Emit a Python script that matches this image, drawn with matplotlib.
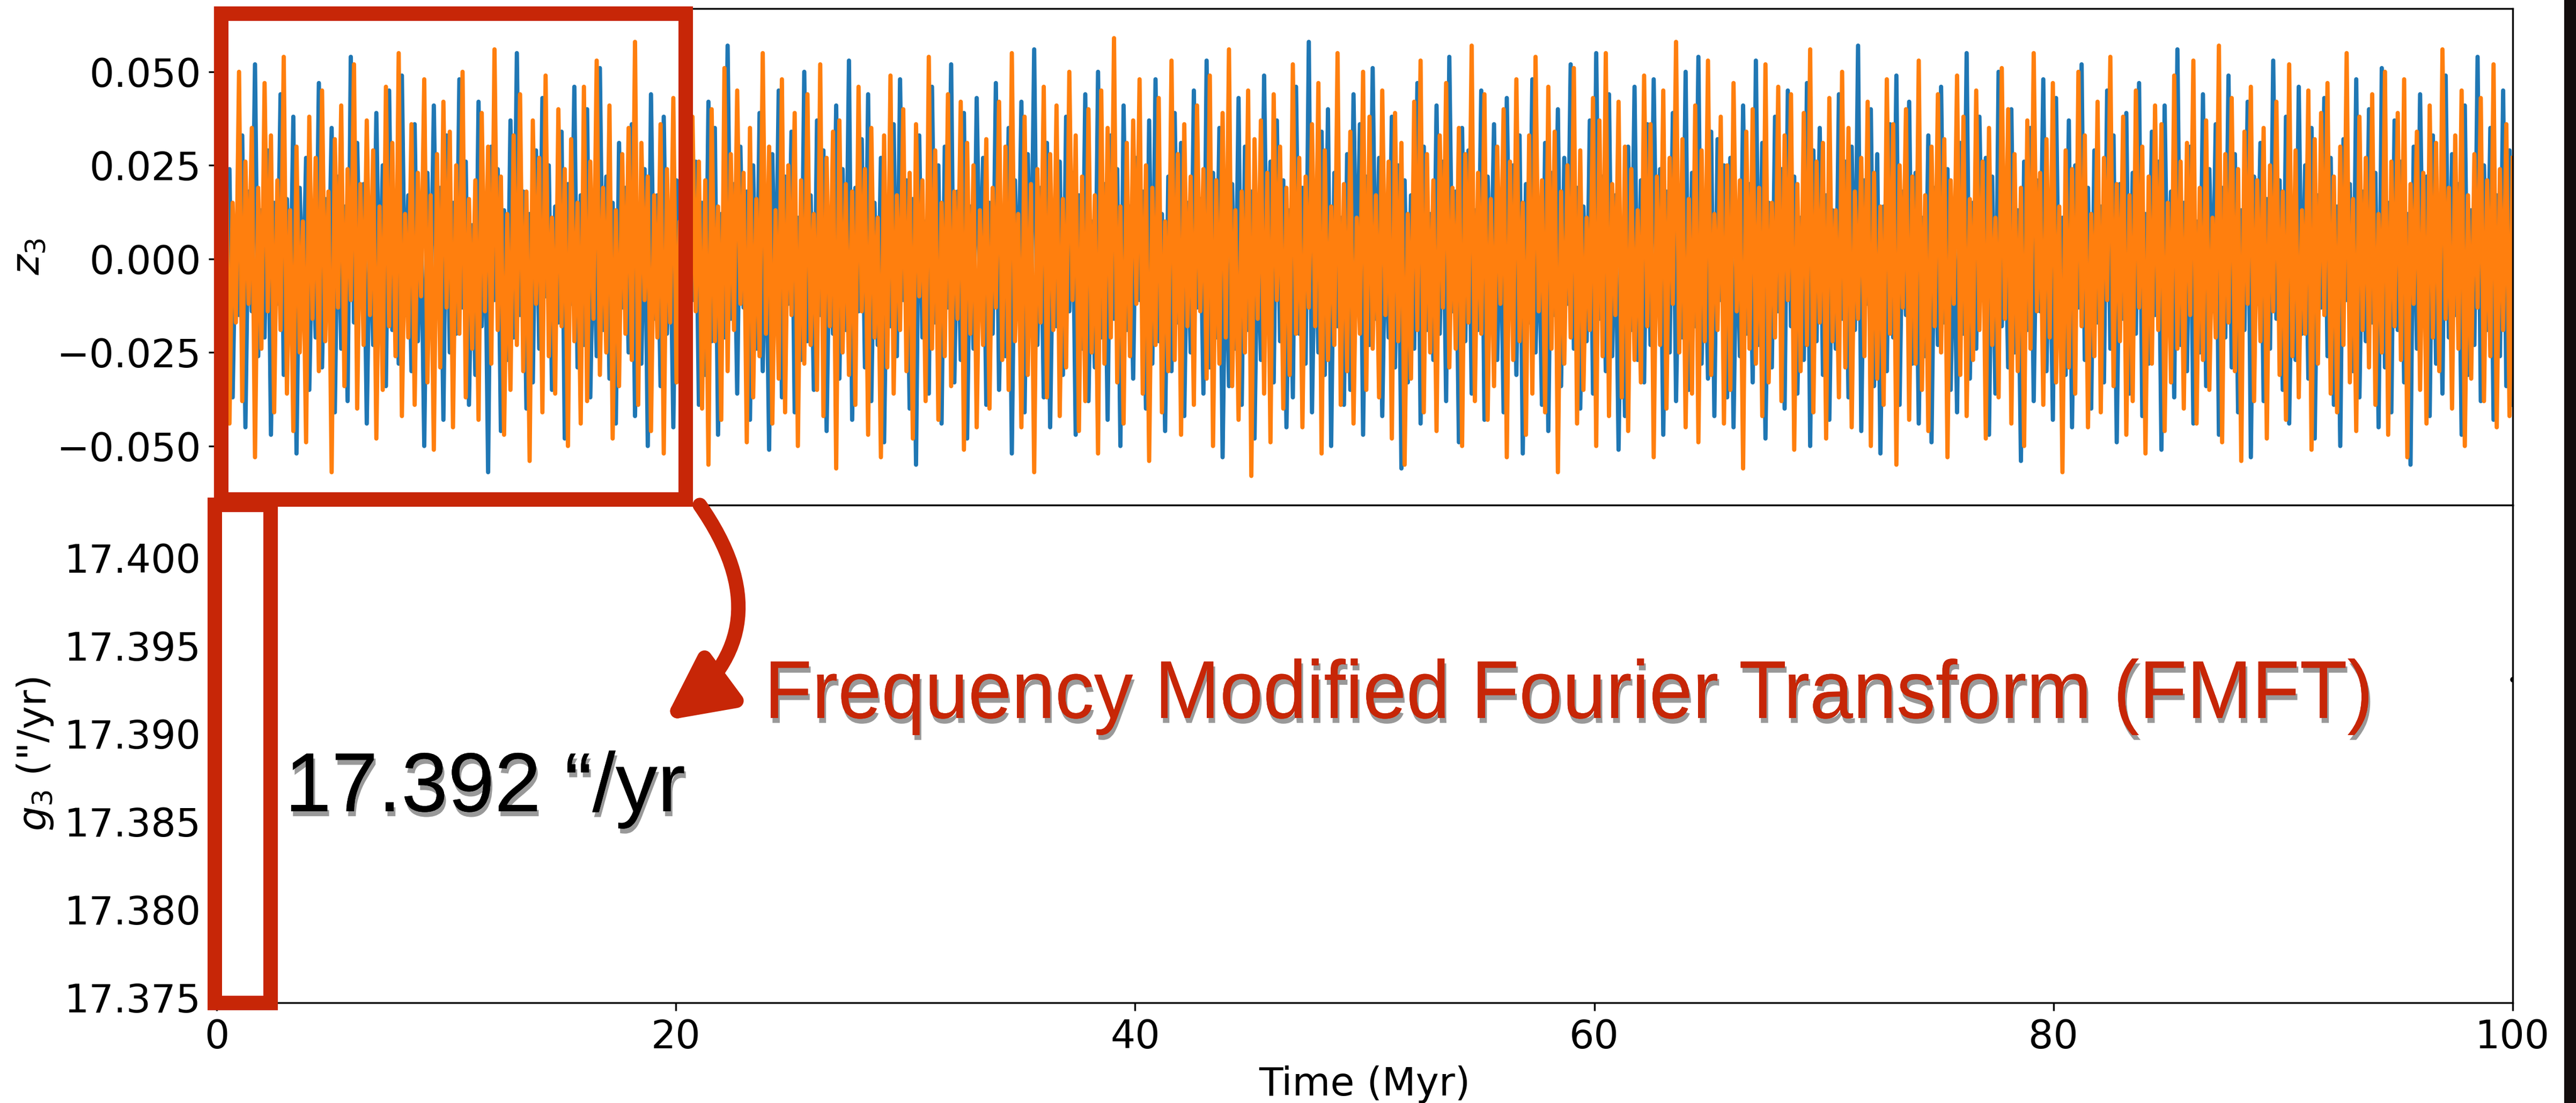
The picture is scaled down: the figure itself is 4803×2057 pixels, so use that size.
import numpy as np
import matplotlib
matplotlib.use('Agg')
import matplotlib.pyplot as plt
from matplotlib.patches import Rectangle, FancyArrowPatch, PathPatch
from matplotlib.textpath import TextPath
from matplotlib.font_manager import FontProperties
from matplotlib.transforms import Affine2D
import matplotlib.patheffects as pe

#-------------------------------------------------------------------------------
# data (z3 in units of 1e-3)
#-------------------------------------------------------------------------------
z3_blue = [
    12,-18,41,-9,24,-37,11,-15,33,-45,18,-14,52,-26,13,-21,29,-47,15,-12,
    44,-31,16,-18,38,-52,19,-13,27,-35,10,-21,47,-29,16,-11,35,-41,22,-24,
    14,-38,54,-17,31,-12,20,-44,13,-23,39,-16,25,-34,45,-19,11,-28,49,-15,
    17,-30,36,-22,12,-50,23,-16,41,-14,19,-43,33,-25,15,-20,48,-13,26,-39,
    9,-31,42,-18,16,-57,30,-11,24,-46,13,-27,37,-21,55,-15,18,-40,12,-33,
    29,-24,43,-10,25,-35,14,-17,34,-48,20,-12,46,-29,17,-23,40,-37,11,-26,
    51,-19,22,-32,15,-44,31,-13,19,-25,36,-42,10,-28,24,-50,44,-16,17,-34,
    38,-20,13,-45,21,-18,49,-27,33,-11,26,-39,15,-31,42,-22,35,-47,12,-21,
    57,-16,20,-36,30,-13,18,-43,25,-24,39,-30,14,-51,28,-17,45,-37,22,-12,
    34,-41,11,-27,50,-22,17,-35,37,-15,29,-46,13,-20,41,-32,24,-19,53,-43,
    19,-14,32,-29,44,-38,15,-23,27,-49,12,-18,36,-26,48,-11,21,-40,16,-55,
    33,-21,10,-36,46,-17,25,-44,30,-13,52,-33,18,-27,39,-48,14,-24,43,-10,
    27,-39,15,-20,47,-35,11,-26,35,-52,21,-16,42,-41,28,-12,56,-23,19,-37,
    31,-45,13,-18,26,-31,38,-14,23,-47,17,-24,44,-38,10,-29,50,-21,20,-43,
    33,-16,24,-50,41,-19,14,-32,27,-11,18,-40,37,-28,48,-22,12,-46,22,-30,
    39,-17,31,-42,15,-25,45,-13,16,-36,53,-29,23,-21,35,-53,11,-34,20,-24,
    43,-39,30,-19,18,-48,12,-27,49,-15,26,-33,37,-22,21,-45,13,-37,46,-20,
    19,-28,58,-41,14,-25,34,-31,40,-50,23,-18,11,-39,28,-35,44,-12,36,-47,
    22,-23,51,-16,27,-42,10,-21,38,-29,25,-56,21,-33,17,-24,47,-44,30,-19,
    12,-27,41,-20,26,-38,54,-14,18,-49,35,-22,29,-36,13,-19,45,-43,22,-11,
    36,-27,16,-41,43,-13,25,-31,33,-52,20,-17,48,-25,11,-39,31,-46,23,-15,
    40,-34,27,-12,52,-24,19,-40,14,-22,37,-36,55,-16,22,-30,44,-26,17,-51,
    10,-42,30,-19,46,-27,21,-33,36,-23,48,-13,24,-47,18,-25,39,-38,12,-21,
    50,-35,23,-18,54,-28,16,-32,34,-42,32,-11,25,-37,27,-45,13,-26,41,-20,
    20,-33,53,-23,31,-48,15,-29,38,-14,24,-40,45,-18,22,-36,11,-27,47,-50,
    29,-22,35,-31,17,-43,13,-24,44,-16,26,-37,30,-19,57,-46,21,-12,40,-34,
    28,-52,14,-30,36,-21,49,-39,18,-15,42,-28,23,-44,11,-26,33,-49,19,-23,
    46,-17,24,-35,12,-41,31,-20,55,-32,15,-24,38,-11,27,-47,22,-36,50,-18,
    17,-29,40,-25,13,-54,26,-19,35,-38,21,-14,48,-30,16,-43,43,-22,11,-31,
    37,-45,25,-13,52,-27,19,-40,29,-17,14,-33,45,-24,33,-49,20,-16,39,-36,
    23,-20,47,-42,12,-28,34,-15,26,-51,41,-18,18,-37,56,-23,15,-30,30,-44,
    10,-25,44,-34,24,-14,36,-47,19,-21,49,-29,28,-41,13,-19,42,-53,22,-12,
    31,-38,16,-24,53,-16,21,-35,38,-44,11,-27,46,-20,25,-32,35,-48,17,-13,
    43,-26,27,-39,14,-50,32,-11,20,-30,48,-37,18,-22,40,-17,23,-45,51,-29,
    15,-41,37,-19,26,-33,12,-55,30,-24,44,-14,22,-42,33,-28,16,-36,49,-21,
    28,-15,20,-47,41,-31,13,-23,54,-38,25,-19,35,-43,17,-26,45,-34,29,-39]

z3_orange = [
    -20,43,-11,22,-44,15,-17,50,-38,26,-12,35,-53,19,-24,47,-14,33,-41,21,
    -19,54,-36,13,-46,30,-25,10,-49,38,-16,27,-30,45,-22,18,-57,32,-13,41,
    -34,24,-11,52,-40,20,-23,37,-15,29,-48,14,-35,46,-18,31,-26,55,-42,12,
    -21,36,-39,23,-10,48,-33,17,-51,28,-29,42,-13,34,-45,25,-20,50,-37,16,
    -24,21,-43,39,-14,30,-28,56,-19,22,-47,12,-35,33,-23,44,-30,18,-54,37,
    -12,27,-41,49,-26,11,-36,40,-18,24,-50,32,-22,15,-44,46,-38,26,-16,53,
    -31,19,-25,41,-48,13,-34,28,-20,35,-27,58,-39,31,-11,22,-46,17,-21,36,
    -52,24,-17,43,-33,10,-28,47,-24,38,-14,26,-40,21,-55,40,-22,14,-43,51,
    -30,28,-19,45,-12,23,-49,35,-37,16,-26,55,-20,30,-44,13,-32,48,-41,25,
    -15,39,-50,21,-28,44,-23,12,-35,52,-42,27,-18,34,-56,37,-25,20,-31,18,
    -39,46,-14,24,-47,35,-21,11,-53,33,-29,49,-36,17,-19,40,-30,23,-48,36,
    -10,21,-38,54,-24,29,-43,15,-26,44,-34,18,-16,42,-51,31,-20,25,-45,13,
    -23,32,-40,19,-13,42,-27,30,-35,55,-22,12,-45,38,-31,20,-57,24,-17,46,
    -37,28,-19,41,-42,16,-29,50,-11,33,-46,22,-38,40,-25,17,-52,45,-28,35,
    -21,59,-33,14,-44,31,-26,37,-12,48,-36,25,-54,19,-23,43,-41,10,-30,53,
    -27,28,-47,36,-18,22,-39,41,-14,24,-32,49,-50,21,-28,39,-21,56,-34,13,
    -43,18,-25,45,-58,32,-16,37,-36,23,-49,44,-11,30,-40,19,-31,52,-20,27,
    -45,22,-13,36,-18,47,-52,29,-27,14,-23,55,-39,20,-30,34,-44,11,-20,50,
    -35,38,-24,17,-37,45,-15,26,-48,39,-22,31,-55,12,-32,42,-19,53,-41,28,
    -25,21,-46,33,-13,47,-29,19,-24,35,-50,28,-17,57,-38,23,-20,44,-43,16,
    -34,30,-12,40,-53,26,-27,48,-22,15,-47,33,-36,54,-14,21,-41,46,-24,34,
    -57,18,-28,25,-21,51,-44,29,-35,11,-19,43,-50,37,-26,55,-42,20,-15,42,
    -37,30,-46,24,-27,13,-33,49,-18,36,-53,22,-23,45,-40,27,-12,58,-25,32,
    -45,16,-36,41,-49,29,-22,53,-31,12,-19,38,-44,25,-35,47,-14,21,-56,34,
    -24,40,-28,19,-42,52,-33,15,-21,46,-38,33,-11,44,-51,20,-30,39,-23,56,
    -41,26,-17,31,-48,43,-22,13,-37,50,-29,35,-45,18,-16,27,-26,42,-50,23,
    -32,14,-39,48,-20,36,-55,25,-13,40,-43,22,-28,53,-35,17,-46,30,-18,44,
    -25,32,-53,21,-12,49,-31,38,-42,16,-27,45,-19,26,-48,35,-23,11,-37,51,
    -16,40,-44,28,-30,19,-50,37,-24,55,-14,23,-39,32,-21,47,-33,14,-57,29,
    -29,24,-36,50,-18,33,-45,12,-26,42,-41,27,-11,54,-34,20,-22,38,-47,17,
    -38,45,-13,30,-52,22,-28,41,-19,36,-46,15,-33,49,-24,26,-40,31,-15,53,
    -44,19,-27,37,-35,11,-21,57,-49,28,-17,43,-30,24,-54,34,-12,46,-38,21,
    -22,35,-48,25,-14,42,-31,18,-43,52,-26,29,-37,13,-20,45,-51,32,-28,39,
    -15,47,-36,22,-41,30,-23,55,-33,16,-46,38,-19,27,-29,44,-39,12,-25,50,
    -47,26,-18,39,-27,48,-53,20,-12,34,-35,23,-44,41,-21,31,-30,56,-16,19,
    -40,33,-24,45,-50,17,-32,28,-13,43,-38,21,-26,52,-45,24,-19,36,-42,27]

# g3 frequency ("/yr), one value shown at the right edge
g3_time = [100.0]
g3_value = [17.3931]

x_ticks = [0, 20, 40, 60, 80, 100]
g3_ticks = [17.375, 17.380, 17.385, 17.390, 17.395, 17.400]

W, H = 4803, 2057
DPI = 300
RED = '#C72607'

zb = np.array(z3_blue) / 1000.0
zo = np.array(z3_orange) / 1000.0
tb = np.linspace(0, 100, len(zb))
to = np.linspace(0, 100, len(zo))

fig = plt.figure(figsize=(W / DPI, H / DPI), dpi=DPI)
plt.rcParams['font.size'] = 17.5

ax1 = fig.add_axes([404 / W, 1 - 942 / H, (4685 - 404) / W, (942 - 16) / H])
ax2 = fig.add_axes([404 / W, 1 - 1870 / H, (4685 - 404) / W, (1870 - 942) / H], sharex=ax1)

ax1.plot(tb, zb, color='#1f77b4', lw=1.9)
ax1.plot(to, zo, color='#ff7f0e', lw=1.9)
ax1.set_xlim(0, 100)
ax1.set_ylim(-0.0658, 0.0669)
ax1.set_yticks([-0.05, -0.025, 0.0, 0.025, 0.05])
ax1.set_yticklabels(['\u22120.050', '\u22120.025', '0.000', '0.025', '0.050'], fontsize=17.5)
ax1.set_ylabel('$z_3$', fontsize=17.5)
ax1.tick_params(axis='x', labelbottom=False, length=0)

ax2.plot(g3_time, g3_value, 'k.', markersize=3)
ax2.set_ylim(17.3747, 17.4030)
ax2.set_yticks(g3_ticks)
ax2.set_yticklabels(['%.3f' % v for v in g3_ticks], fontsize=17.5)
ax2.set_xticks(x_ticks)
ax2.set_xticklabels([str(v) for v in x_ticks], fontsize=17.5)
ax2.set_xlabel('Time (Myr)', fontsize=17.5)
ax2.set_ylabel('$g_3$ ("/yr)', fontsize=17.5)

#-------------------------------------------------------------------------------
# slide overlay: boxes, arrow, labels
#-------------------------------------------------------------------------------
lw_box = 27 * 72 / DPI
fig.add_artist(Rectangle((412 / W, 1 - 931 / H), 866 / W, 906 / H, transform=fig.transFigure,
                         fill=False, edgecolor=RED, lw=lw_box, joinstyle='miter', zorder=10))
fig.add_artist(Rectangle((399.5 / W, 1 - 1870 / H), 104 / W, 929 / H, transform=fig.transFigure,
                         fill=False, edgecolor=RED, lw=lw_box, joinstyle='miter', zorder=10))

arrow = FancyArrowPatch((1300 / W, 1 - 935 / H), (1232 / W, 1 - 1349 / H),
                        transform=fig.transFigure, connectionstyle='arc3,rad=-0.5',
                        arrowstyle='-|>,head_length=1.2,head_width=0.6', mutation_scale=20,
                        color=RED, lw=lw_box, zorder=10)
fig.add_artist(arrow)

shadow = [pe.withSimplePatchShadow(offset=(0.8, -2.2), shadow_rgbFace='black', alpha=0.4),
          pe.Normal()]

# red caption, slightly condensed as on the slide (x 1437..4416 px, baseline 1339 px)
fmft_label = 'Frequency Modified Fourier Transform (FMFT)'
tp = TextPath((0, 0), fmft_label, size=153, prop=FontProperties(family='Liberation Sans'))
ext = tp.get_extents()
sx = (4416 - 1437) / ext.width
tr = Affine2D().scale(sx, 1).translate(1437 - ext.x0 * sx, H - 1339)
fig.add_artist(PathPatch(tp, transform=tr, facecolor=RED, edgecolor='none',
                         path_effects=shadow, zorder=11))

fig.text(531 / W, 1 - 1513 / H, '17.392 \u201c/yr',
         family='Liberation Sans', fontsize=37.5, color='black', ha='left', va='baseline',
         path_effects=shadow, zorder=11)

# dark strip on the right edge of the slide
fig.add_artist(Rectangle((4781 / W, 0), 1 - 4781 / W, 1, transform=fig.transFigure,
                         facecolor='#130d0d', edgecolor='none', zorder=12))

fig.savefig('out.png', dpi=DPI)
